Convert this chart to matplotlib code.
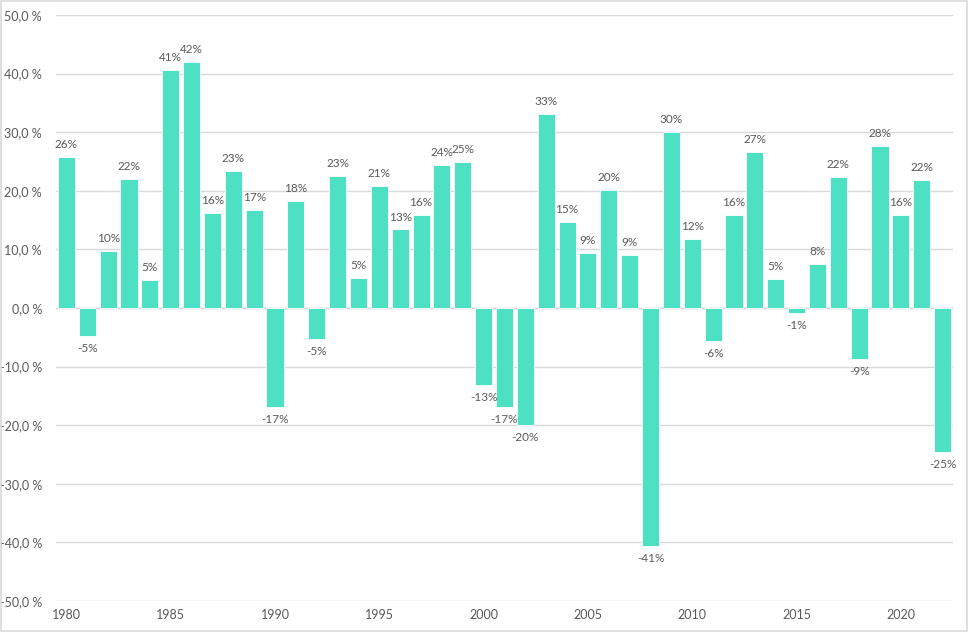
import numpy as np
import matplotlib.pyplot as plt
from matplotlib.patches import Rectangle

# Data: yearly returns in percent
years = list(range(1980, 2023))
returns = [25.8, -4.8, 9.7, 22.0, 4.8, 40.6, 42.0, 16.2, 23.4, 16.7,
           -16.9, 18.3, -5.3, 22.6, 5.1, 20.8, 13.4, 15.9, 24.4, 24.9,
           -13.1, -16.9, -20.0, 33.1, 14.7, 9.4, 20.1, 9.0, -40.6, 30.0,
           11.8, -5.6, 15.9, 26.6, 4.9, -0.9, 7.5, 22.4, -8.7, 27.6,
           15.9, 21.8, -24.6]
y_ticks = [-50, -40, -30, -20, -10, 0, 10, 20, 30, 40, 50]

bar_color = '#4DE0C3'
text_color = '#595959'
grid_color = '#D9D9D9'

plt.rcParams['font.family'] = ['Lato', 'DejaVu Sans']

fig = plt.figure(figsize=(9.68, 6.32), dpi=100)
ax = fig.add_axes([56 / 968, 1 - 601 / 632, (953 - 56) / 968, (601 - 15) / 632])

x = np.arange(len(years))
ax.bar(x, returns, width=0.82, color=bar_color, edgecolor='white', linewidth=0.6, zorder=3)

# Data labels
for xi, v in zip(x, returns):
    label = f"{round(v):.0f}%"
    if v >= 0:
        ax.annotate(label, (xi, v), xytext=(0, 5), textcoords='offset points',
                    ha='center', va='bottom', fontsize=8.5, color=text_color)
    else:
        ax.annotate(label, (xi, v), xytext=(0, -5), textcoords='offset points',
                    ha='center', va='top', fontsize=8.5, color=text_color)

ax.set_xlim(-0.5, len(years) - 0.5)
ax.set_ylim(-50, 50)
ax.set_yticks(y_ticks)
ax.set_yticklabels([f"{t:.1f} %".replace('.', ',') for t in y_ticks])

tick_pos = [i for i, yr in enumerate(years) if yr % 5 == 0]
ax.set_xticks(tick_pos)
ax.set_xticklabels([str(years[i]) for i in tick_pos])

ax.tick_params(axis='both', length=0, colors=text_color, labelsize=9)
ax.tick_params(axis='y', pad=10)
ax.tick_params(axis='x', pad=6)

ax.grid(axis='y', color=grid_color, linewidth=1, zorder=0)
ax.axhline(0, color=grid_color, linewidth=1, zorder=2)
for s in ax.spines.values():
    s.set_visible(False)

# Chart border
fig.patches.append(Rectangle((0.001, 0.001), 0.998, 0.997, transform=fig.transFigure,
                             fill=False, edgecolor=grid_color, linewidth=1.2))

fig.savefig('out.png', dpi=100)
